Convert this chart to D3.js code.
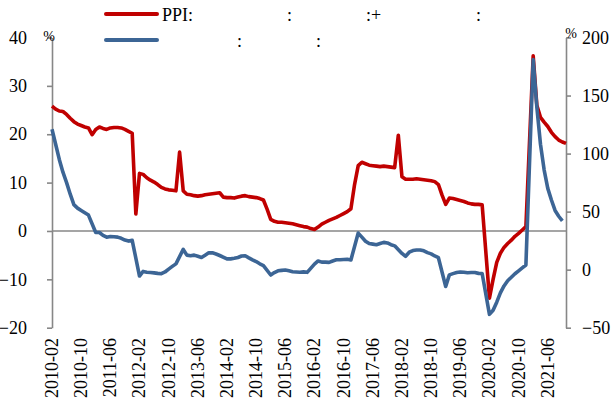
<!DOCTYPE html>
<html>
<head>
<meta charset="utf-8">
<script src="https://cdn.jsdelivr.net/npm/d3@7"></script>
<style>
  body { margin: 0; background: #fff; }
  svg { display: block; }
  text { font-family: "Liberation Serif", "Times New Roman", serif; fill: #000; }
</style>
</head>
<body>
<svg id="chart" width="612" height="405"></svg>
<script>
// --- Data (monthly, 2010-02 .. 2021-11; null = no value for that month) ---

const firstMonth = '2010-02';
const lastMonth = '2021-11';

// red series, left axis (%)
const ppi = [
  25.8, 25.2, 24.8, 24.7, 24.1, 23.3, 22.6, 22.1, 21.8, 21.5, 21.3,
  19.9, 21.0, 21.5, 21.2, 21.0, 21.3, 21.4, 21.4, 21.3, 21.0, 20.6, 20.2,
  3.5, 11.9, 11.7, 11.0, 10.5, 10.1, 9.6, 9.0, 8.7, 8.5, 8.4, 8.3,
  16.3, 8.3, 7.6, 7.5, 7.3, 7.2, 7.3, 7.5, 7.6, 7.7, 7.8, 7.9,
  7.0, 6.9, 6.9, 6.8, 7.0, 7.2, 7.3, 7.1, 7.0, 6.9, 6.7, 6.4,
  4.5, 2.4, 2.0, 1.8, 1.8, 1.7, 1.6, 1.5, 1.3, 1.1, 0.9, 0.8,
  0.5, 0.3, 0.8, 1.4, 1.8, 2.2, 2.5, 2.8, 3.2, 3.6, 4.0, 4.6,
  9.6, 13.5, 14.2, 13.9, 13.6, 13.5, 13.4, 13.3, 13.4, 13.3, 13.2, 13.1,
  19.8, 11.2, 10.7, 10.7, 10.7, 10.8, 10.7, 10.6, 10.5, 10.4, 10.2, 9.6,
  7.4, 5.5, 6.8, 6.7, 6.5, 6.3, 6.1, 5.8, 5.6, 5.5, 5.5, 5.4,
  null, -13.9, -10.0, -6.5, -4.6, -3.4, -2.6, -1.9, -1.1, -0.5, 0.2, 0.9,
  null, 36.2, 26.0, 23.5, 22.5, 21.6, 20.4, 19.5, 18.8, 18.4, 18.1
];

// blue series, right axis (%)
const profit = [
  121, 108, 95, 84, 75, 65, 56, 53, 51, 49, 47,
  null, 32, 32, 29.5, 28, 28.5, 28.3, 28, 27, 25.5, 24.6, 25.3,
  null, -5.5, -1.5, -2.2, -2.5, -2.8, -3.2, -3.5, -2.0, 0.5, 2.8, 5.0,
  null, 17.5, 12.5, 12.0, 12.5, 11.5, 10.5, 12.5, 14.5, 14.5, 13.5, 12.2,
  null, 9.3, 9.3, 9.8, 10.5, 11.8, 12.0, 10.2, 8.5, 7.0, 5.0, 3.5,
  null, -4.6, -2.5, -1.0, -0.6, -0.3, -1.0, -1.8, -2.0, -2.2, -1.9, -2.3,
  null, 4.8, 7.5, 6.5, 6.5, 6.3, 7.5, 8.5, 8.6, 8.8, 9.0, 8.4,
  null, 31.5, 28.0, 24.5, 22.5, 22.0, 21.5, 22.5, 23.5, 23.0, 21.5, 20.5,
  null, 14.0, 11.5, 15.0, 16.5, 17.0, 17.0, 16.2, 14.7, 13.6, 11.8, 10.3,
  null, -14.5, -4.5, -3.4, -2.5, -2.0, -2.2, -2.6, -2.5, -2.5, -3.2, -3.3,
  null, -38.5, -35, -28, -20, -14, -9.5, -6.5, -3.5, -1.0, 1.5, 4.0,
  null, 181, 140, 108, 86, 70, 60, 51, 46, 42
];

const leftTicks = [-20, -10, 0, 10, 20, 30, 40];
const rightTicks = [-50, 0, 50, 100, 150, 200];
const labelEvery = 8;

// legend: only the latin part of the labels is visible in the source
const legendRed = [{ t: 'PPI:', x: 162 }, { t: ':', x: 287 }, { t: ':+', x: 366 }, { t: ':', x: 476 }];
const legendBlue = [{ t: ':', x: 237 }, { t: ':', x: 316 }];

const RED = '#C00000';
const BLUE = '#3C6595';
const AXIS = '#878787';

// --- Categories ---

const parseMonth = d3.timeParse('%Y-%m');
const fmtMonth = d3.timeFormat('%Y-%m');
const months = d3.timeMonth.range(parseMonth(firstMonth), d3.timeMonth.offset(parseMonth(lastMonth), 1)).map(fmtMonth);

// --- Scales ---

const plot = { left: 52, right: 566, top: 37.5, bottom: 327.7 };

const x = d3.scalePoint().domain(months).range([plot.left, plot.right]);
const yL = d3.scaleLinear().domain([-20, 40]).range([plot.bottom, plot.top]);
const yR = d3.scaleLinear().domain([-50, 200]).range([plot.bottom, plot.top]);

const svg = d3.select('#chart');

// --- Axes ---

const axisL = svg.append('g')
  .attr('transform', `translate(${plot.left},0)`)
  .call(d3.axisLeft(yL).tickValues(leftTicks).tickSize(5).tickPadding(20).tickSizeOuter(0));

const axisR = svg.append('g')
  .attr('transform', `translate(${plot.right},0)`)
  .call(d3.axisRight(yR).tickValues(rightTicks).tickSize(5).tickPadding(11).tickSizeOuter(0));

[axisL, axisR].forEach(g => {
  g.select('.domain').attr('stroke', AXIS).attr('stroke-width', 1.6);
  g.selectAll('.tick line').attr('stroke', AXIS).attr('stroke-width', 1.6);
  g.selectAll('.tick text')
    .attr('font-size', 18)
    .attr('font-family', '"Liberation Serif", serif')
    .attr('fill', '#000');
});

// zero line (category axis)
svg.append('line')
  .attr('x1', plot.left).attr('x2', plot.right)
  .attr('y1', yL(0)).attr('y2', yL(0))
  .attr('stroke', AXIS).attr('stroke-width', 1.6);

// unit labels
svg.append('text').attr('x', plot.left - 3).attr('y', 41)
  .attr('text-anchor', 'middle').attr('font-size', 14).text('%');
svg.append('text').attr('x', plot.right + 5).attr('y', 38)
  .attr('text-anchor', 'middle').attr('font-size', 14).text('%');

// category labels, rotated
svg.append('g').selectAll('text')
  .data(months.filter((m, i) => i % labelEvery === 0))
  .join('text')
  .attr('transform', d => `translate(${x(d)},338) rotate(-90)`)
  .attr('dy', '0.33em')
  .attr('text-anchor', 'end')
  .attr('font-size', 18)
  .text(d => d);

// --- Lines ---

function series(values) {
  return values.map((v, i) => ({ m: months[i], v })).filter(d => d.v != null);
}

svg.append('path')
  .datum(series(ppi))
  .attr('fill', 'none')
  .attr('stroke', RED)
  .attr('stroke-width', 3.6)
  .attr('stroke-linejoin', 'round')
  .attr('d', d3.line().x(d => x(d.m)).y(d => yL(d.v)));

svg.append('path')
  .datum(series(profit))
  .attr('fill', 'none')
  .attr('stroke', BLUE)
  .attr('stroke-width', 3.6)
  .attr('stroke-linejoin', 'round')
  .attr('d', d3.line().x(d => x(d.m)).y(d => yR(d.v)));

// --- Legend ---

const legend = svg.append('g');
[[RED, 14, legendRed, 21], [BLUE, 40, legendBlue, 47]].forEach(([color, ly, items, by]) => {
  legend.append('line')
    .attr('x1', 106).attr('x2', 157)
    .attr('y1', ly).attr('y2', ly)
    .attr('stroke', color).attr('stroke-width', 4)
    .attr('stroke-linecap', 'round');
  legend.selectAll(null)
    .data(items)
    .join('text')
    .attr('x', d => d.x).attr('y', by)
    .attr('font-size', 18)
    .text(d => d.t);
});
</script>
</body>
</html>
